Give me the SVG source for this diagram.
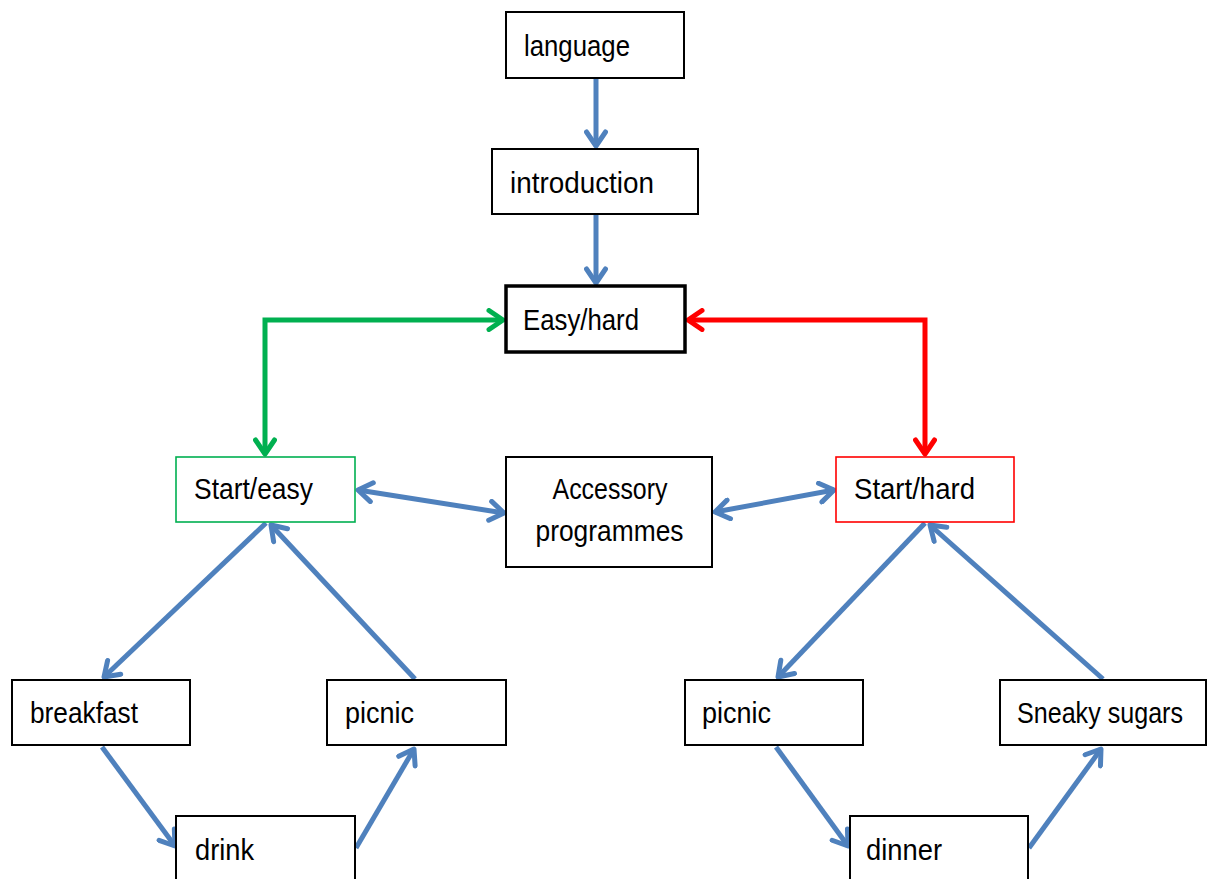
<svg xmlns="http://www.w3.org/2000/svg" width="1216" height="879" viewBox="0 0 1216 879">
  <style>
    .box { fill: #ffffff; stroke: #000000; stroke-width: 2; }
    .thick { stroke-width: 3.5; }
    .green { stroke: #00b050; stroke-width: 1.6; }
    .red { stroke: #ff0000; stroke-width: 1.6; }
    .label { font-family: "Liberation Sans", Arial, sans-serif; font-size: 25px; fill: #000000; }
    .mid { text-anchor: middle; }
    .blue-line { fill: none; stroke: #4f81bd; stroke-width: 5; marker-end: url(#arrow-blue); }
    .blue-both { fill: none; stroke: #4f81bd; stroke-width: 5; marker-start: url(#arrow-blue); marker-end: url(#arrow-blue); }
    .green-line { fill: none; stroke: #00b050; stroke-width: 5; marker-start: url(#arrow-green); marker-end: url(#arrow-green); }
    .red-line { fill: none; stroke: #ff0000; stroke-width: 5; marker-start: url(#arrow-red); marker-end: url(#arrow-red); }
  </style>
  <defs>
    <marker id="arrow-blue" viewBox="-18 -12 22 24" refX="0" refY="0" markerWidth="22" markerHeight="24" markerUnits="userSpaceOnUse" orient="auto-start-reverse">
      <path d="M-14,-9.5 L0,0 L-14,9.5" fill="none" stroke="#4f81bd" stroke-width="5" stroke-linecap="round" stroke-linejoin="round"/>
    </marker>
    <marker id="arrow-green" viewBox="-18 -12 22 24" refX="0" refY="0" markerWidth="22" markerHeight="24" markerUnits="userSpaceOnUse" orient="auto-start-reverse">
      <path d="M-14,-9.5 L0,0 L-14,9.5" fill="none" stroke="#00b050" stroke-width="5" stroke-linecap="round" stroke-linejoin="round"/>
    </marker>
    <marker id="arrow-red" viewBox="-18 -12 22 24" refX="0" refY="0" markerWidth="22" markerHeight="24" markerUnits="userSpaceOnUse" orient="auto-start-reverse">
      <path d="M-14,-9.5 L0,0 L-14,9.5" fill="none" stroke="#ff0000" stroke-width="5" stroke-linecap="round" stroke-linejoin="round"/>
    </marker>
  </defs>

  <rect width="1216" height="879" fill="#ffffff"/>

  <!-- connectors -->
  <g id="connectors">
    <line class="blue-line" x1="596" y1="79" x2="596" y2="146"/>
    <line class="blue-line" x1="596" y1="215" x2="596" y2="283"/>
    <path class="green-line" d="M503,320 L265,320 L265,454"/>
    <path class="red-line" d="M688,320 L925,320 L925,454"/>
    <line class="blue-both" x1="358" y1="490" x2="504" y2="513"/>
    <line class="blue-both" x1="715" y1="512" x2="834" y2="490"/>
    <!-- easy loop -->
    <line class="blue-line" x1="266" y1="523" x2="104" y2="677"/>
    <line class="blue-line" x1="102" y1="747" x2="175" y2="846"/>
    <line class="blue-line" x1="356" y1="848" x2="414" y2="749"/>
    <line class="blue-line" x1="415" y1="679" x2="271" y2="525"/>
    <!-- hard loop -->
    <line class="blue-line" x1="925" y1="523" x2="778" y2="677"/>
    <line class="blue-line" x1="776" y1="747" x2="848" y2="846"/>
    <line class="blue-line" x1="1029" y1="848" x2="1101" y2="749"/>
    <line class="blue-line" x1="1103" y1="679" x2="930" y2="525"/>
  </g>

  <!-- nodes (labels use tall lettering, each fitted to its own width) -->
  <g id="node-language">
    <rect class="box" x="506" y="12" width="178" height="66"/>
    <text class="label" transform="translate(524 56) scale(1 1.2)" textLength="106" lengthAdjust="spacingAndGlyphs">language</text>
  </g>
  <g id="node-introduction">
    <rect class="box" x="492" y="149" width="206" height="65"/>
    <text class="label" transform="translate(510 193) scale(1 1.2)" textLength="144" lengthAdjust="spacingAndGlyphs">introduction</text>
  </g>
  <g id="node-easy-hard">
    <rect class="box thick" x="506" y="286" width="179" height="66"/>
    <text class="label" transform="translate(523 330) scale(1 1.2)" textLength="116" lengthAdjust="spacingAndGlyphs">Easy/hard</text>
  </g>
  <g id="node-start-easy">
    <rect class="box green" x="176" y="457" width="179" height="65"/>
    <text class="label" transform="translate(194 499) scale(1 1.2)" textLength="119" lengthAdjust="spacingAndGlyphs">Start/easy</text>
  </g>
  <g id="node-accessory">
    <rect class="box" x="506" y="457" width="206" height="110"/>
    <text class="label mid" transform="translate(610 499) scale(1 1.2)" textLength="115" lengthAdjust="spacingAndGlyphs">Accessory</text>
    <text class="label mid" transform="translate(609.5 541) scale(1 1.2)" textLength="148" lengthAdjust="spacingAndGlyphs">programmes</text>
  </g>
  <g id="node-start-hard">
    <rect class="box red" x="836" y="457" width="178" height="65"/>
    <text class="label" transform="translate(854 499) scale(1 1.2)" textLength="121" lengthAdjust="spacingAndGlyphs">Start/hard</text>
  </g>
  <g id="node-breakfast">
    <rect class="box" x="12" y="680" width="178" height="65"/>
    <text class="label" transform="translate(30 723) scale(1 1.2)" textLength="108" lengthAdjust="spacingAndGlyphs">breakfast</text>
  </g>
  <g id="node-picnic-easy">
    <rect class="box" x="327" y="680" width="179" height="65"/>
    <text class="label" transform="translate(345 723) scale(1 1.2)" textLength="69" lengthAdjust="spacingAndGlyphs">picnic</text>
  </g>
  <g id="node-drink">
    <rect class="box" x="176" y="816" width="179" height="80"/>
    <text class="label" transform="translate(195 860) scale(1 1.2)" textLength="59" lengthAdjust="spacingAndGlyphs">drink</text>
  </g>
  <g id="node-picnic-hard">
    <rect class="box" x="685" y="680" width="178" height="65"/>
    <text class="label" transform="translate(702 723) scale(1 1.2)" textLength="69" lengthAdjust="spacingAndGlyphs">picnic</text>
  </g>
  <g id="node-sneaky-sugars">
    <rect class="box" x="1000" y="680" width="206" height="65"/>
    <text class="label" transform="translate(1017 723) scale(1 1.2)" textLength="166" lengthAdjust="spacingAndGlyphs">Sneaky sugars</text>
  </g>
  <g id="node-dinner">
    <rect class="box" x="850" y="816" width="178" height="80"/>
    <text class="label" transform="translate(866 860) scale(1 1.2)" textLength="76" lengthAdjust="spacingAndGlyphs">dinner</text>
  </g>
</svg>
